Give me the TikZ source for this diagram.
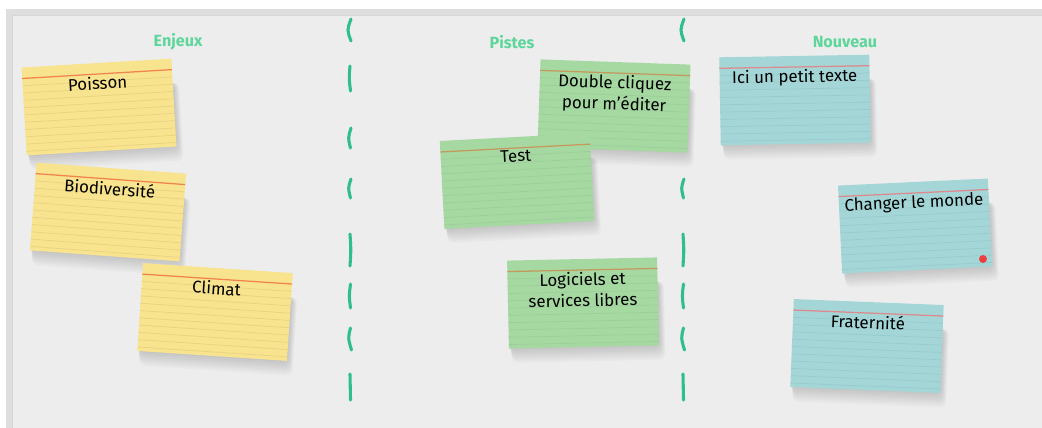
\documentclass[tikz,border=0pt]{standalone}
\usepackage{fontspec}
\setmainfont{Fira Sans}
\usetikzlibrary{positioning}

\definecolor{boardgray}{HTML}{EDEDED}
\definecolor{framegray}{HTML}{DEDEDE}
\definecolor{titlegreen}{HTML}{5ED69B}
\definecolor{sepgreen}{HTML}{2FBE8C}
\definecolor{yellowfill}{HTML}{F8E38E}
\definecolor{yellowline}{HTML}{E8D283}
\definecolor{yellowtop}{HTML}{F0844E}
\definecolor{greenfill}{HTML}{A6D8A2}
\definecolor{greenline}{HTML}{9CCE99}
\definecolor{greentop}{HTML}{C49A5C}
\definecolor{bluefill}{HTML}{A5D6D7}
\definecolor{blueline}{HTML}{97CACF}
\definecolor{bluetop}{HTML}{DD8A8E}
\definecolor{dotred}{HTML}{EE3E3E}

\tikzstyle{title} = [text=titlegreen, font=\fontsize{11.5}{14}\selectfont\bfseries]
\tikzstyle{cardtext} = [text=black, font=\fontsize{12}{15}\selectfont, align=center, inner sep=0pt, anchor=north]
\tikzstyle{sepstroke} = [sepgreen, line width=2.2pt, line cap=round]

% card: name, centre, angle, colour, text
\newcommand{\card}[5]{%
\begin{scope}[shift={#2}, rotate=#3]
\foreach \i in {1,...,7}
  \fill[black, opacity=0.025, rounded corners=4] (-75+0.4*\i,-20) rectangle (75+0.9*\i,43+2.2*\i);
\fill[#4fill] (-75,-44) rectangle (75,44);
\foreach \k in {1,...,10}
  \draw[#4line, line width=0.5pt] (-75,-33+7.3*\k) -- (75,-33+7.3*\k);
\draw[#4top, line width=0.9pt] (-75,-33) -- (75,-33);
\node[cardtext, rotate=#3] (#1) at (0,-31) {#5};
\end{scope}}

\begin{document}
\begin{tikzpicture}[x=0.025cm, y=-0.025cm]
\useasboundingbox (0,0) rectangle (1042,428);

% board
\fill[white] (0,0) rectangle (1042,428);
\fill[framegray] (6,9) rectangle (1050,440);
\fill[boardgray] (12,15) rectangle (1050,440);
\draw[black!16, line width=0.6pt] (12,440) -- (12,15) -- (1050,15);

% column titles
\node[title] (enjeux) at (178,42) {Enjeux};
\node[title] (pistes) at (512,42) {Pistes};
\node[title] (nouveau) at (845,42) {Nouveau};

% separators
\foreach \x in {350,683} {
  \draw[sepstroke] (\x+1,19) .. controls (\x-3,30) .. (\x+1,41);
  \draw[sepstroke] (\x,66) .. controls (\x-1,78) .. (\x+0.5,91);
  \draw[sepstroke] (\x+1,128) .. controls (\x-2,138) .. (\x+0.5,148);
  \draw[sepstroke] (\x+1,179) .. controls (\x-2,188) .. (\x+0.5,198);
  \draw[sepstroke] (\x,234) .. controls (\x+1,250) .. (\x,266);
  \draw[sepstroke] (\x+0.5,284) .. controls (\x-1,296) .. (\x+0.5,308);
  \draw[sepstroke] (\x+0.5,328) .. controls (\x-2,338) .. (\x+1.5,350);
  \draw[sepstroke] (\x,374) .. controls (\x-0.5,387) .. (\x+0.5,400);
}

% Enjeux
\card{poisson}{(99,107)}{3.4}{yellow}{Poisson}
\card{biodiv}{(108,212)}{-4.2}{yellow}{Biodiversité}
\card{climat}{(215,312)}{-3.8}{yellow}{Climat}

% Pistes
\card{double}{(614,106)}{-2}{green}{Double cliquez\\pour m’éditer}
\card{test}{(517,181)}{3}{green}{Test}
\card{logiciels}{(583,303)}{1.2}{green}{Logiciels et\\services libres}

% Nouveau
\card{ici}{(795,100)}{1}{blue}{Ici un petit texte}
\card{changer}{(915,226)}{2.7}{blue}{Changer le monde}
\card{fraternite}{(867,346)}{-2.3}{blue}{Fraternité}
\fill[dotred] (983,259) circle (4);

\end{tikzpicture}
\end{document}
